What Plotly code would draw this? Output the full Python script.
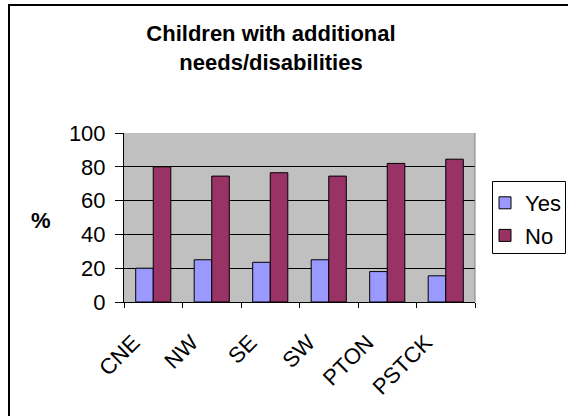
import plotly.graph_objects as go

categories = ["CNE", "NW", "SE", "SW", "PTON", "PSTCK"]
yes_values = [20, 25, 23.5, 25, 18, 15.5]
no_values = [80, 74.5, 76.5, 74.5, 82, 84.5]
y_ticks = [0, 20, 40, 60, 80, 100]

FONT = "Liberation Sans, Arial, sans-serif"

W, H = 568, 416
L, R, T, B = 124, 475, 133, 302
pw, ph = R - L, B - T

def px_x(x):
    return (x - L) / pw

def px_y(y):
    return (B - y) / ph

fig = go.Figure()
fig.add_trace(go.Bar(x=categories, y=yes_values, name="Yes", legendgroup="yes",
                     marker=dict(color="#9999FF", line=dict(color="black", width=1))))
fig.add_trace(go.Bar(x=categories, y=no_values, name="No", legendgroup="no",
                     marker=dict(color="#993366", line=dict(color="black", width=1))))

fig.update_layout(
    width=W, height=H,
    margin=dict(l=L, r=W - R, t=T, b=H - B, pad=0, autoexpand=False),
    paper_bgcolor="white",
    plot_bgcolor="#C0C0C0",
    barmode="group",
    bargap=0.4,
    bargroupgap=0,
    font=dict(family=FONT, size=22, color="black"),
    title=dict(text="<b>Children with additional<br>needs/disabilities</b>",
               x=271 / W, xanchor="center", xref="container",
               y=1 - 41 / H, yanchor="middle", yref="container",
               font=dict(family=FONT, size=22, color="black")),
    showlegend=True,
    legend=dict(x=px_x(485), xanchor="left", y=px_y(182), yanchor="top",
                bgcolor="rgba(0,0,0,0)", borderwidth=0,
                font=dict(family=FONT, size=22, color="black"),
                traceorder="grouped", tracegroupgap=1),
    xaxis=dict(showline=True, linecolor="black", linewidth=1,
               ticks="outside", tickson="boundaries", ticklen=5, tickcolor="black",
               tickangle=-45, showgrid=False,
               ticklabelshift=-20, ticklabelstandoff=18,
               tickfont=dict(family=FONT, size=22, color="black")),
    yaxis=dict(range=[0, 100], tickvals=y_ticks, showline=True, linecolor="black",
               linewidth=1, ticks="outside", ticklen=8, tickcolor="black",
               ticklabelstandoff=5,
               showgrid=True, gridcolor="black", gridwidth=1, zeroline=False,
               tickfont=dict(family=FONT, size=22, color="black")),
)

fig.add_annotation(text="<b>%</b>", xref="paper", yref="paper",
                   x=px_x(41), y=px_y(220), xanchor="center", yanchor="middle",
                   showarrow=False, font=dict(family=FONT, size=22, color="black"))

# plot area right edge (gray)
fig.add_shape(type="line", xref="paper", yref="paper", x0=1, x1=1, y0=0, y1=1,
              line=dict(color="#808080", width=1))
# legend box
fig.add_shape(type="rect", xref="paper", yref="paper",
              x0=px_x(492.5), x1=px_x(565.5), y0=px_y(253.5), y1=px_y(181.5),
              line=dict(color="black", width=1), fillcolor="white", layer="above")
# outer chart border
fig.add_shape(type="rect", xref="paper", yref="paper",
              x0=px_x(9), x1=px_x(W + 20), y0=px_y(H + 20), y1=px_y(5),
              line=dict(color="black", width=2), layer="above")

fig.write_html("out.html", config={"displayModeBar": False},
               post_script="document.body.style.margin='0';")
